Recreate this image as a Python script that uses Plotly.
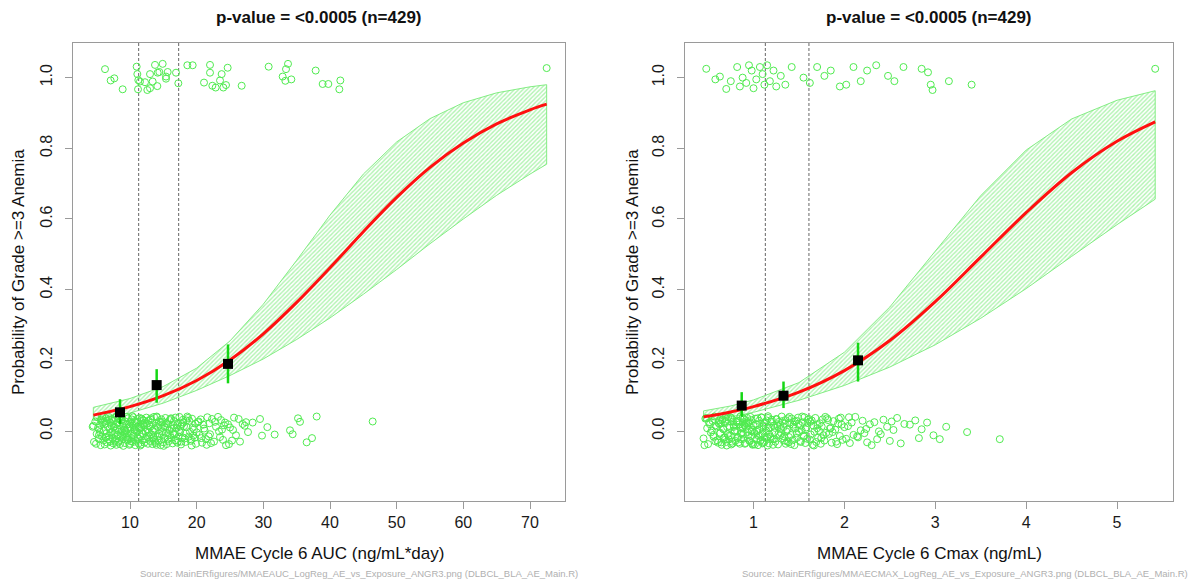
import plotly.graph_objects as go

W, H = 1191, 580

# ---------------- MMAE Cycle 6 AUC panel ----------------
auc_fit_x = [4.5, 10, 15, 20, 25, 30, 35, 40, 45, 50, 55, 60, 65, 70, 72.5]
auc_fit_p = [0.045, 0.069, 0.100, 0.143, 0.201, 0.275, 0.364, 0.462, 0.564,
             0.661, 0.746, 0.815, 0.869, 0.909, 0.925]
auc_ci_lo = [0.030, 0.051, 0.079, 0.115, 0.157, 0.204, 0.259, 0.320, 0.387,
             0.457, 0.530, 0.600, 0.667, 0.727, 0.755]
auc_ci_hi = [0.067, 0.092, 0.126, 0.178, 0.255, 0.359, 0.483, 0.611, 0.727,
             0.818, 0.884, 0.929, 0.957, 0.974, 0.980]

auc_bin_x = [8.5, 14.0, 24.7]
auc_bin_p = [0.053, 0.130, 0.190]
auc_bin_hi = [0.090, 0.175, 0.245]
auc_bin_lo = [0.020, 0.080, 0.135]
auc_cuts = [11.3, 17.3]

auc_evt_x = [6.25, 7.1, 7.65, 8.9, 11.0, 11.1, 11.25, 11.2, 11.5, 12.25, 12.6, 13.0,
             13.0, 13.4, 13.75, 14.1, 14.15, 14.4, 14.9, 15.4, 15.4, 15.65, 16.9, 17.25,
             18.6, 19.4, 21.1, 22.0, 22.0, 22.35, 22.85, 23.5, 23.75, 24.0, 24.4, 24.65,
             26.75, 30.8, 32.9, 33.3, 33.4, 33.7, 34.2, 37.85, 38.9, 39.75, 41.4, 41.55,
             72.5]
auc_evt_y = [1.024, 0.992, 0.998, 0.967, 1.031, 1.010, 0.993, 0.967, 0.989, 0.987, 0.965, 0.970,
             1.010, 0.989, 1.036, 0.976, 1.014, 1.016, 1.039, 1.003, 0.997, 1.016, 1.014, 0.984,
             1.035, 1.035, 0.986, 1.036, 1.014, 0.977, 0.972, 0.992, 1.010, 0.972, 0.979, 1.028,
             0.977, 1.031, 1.003, 0.991, 1.024, 1.039, 0.995, 1.020, 0.982, 0.982, 0.967, 0.992,
             1.027]

auc_non_x = [
    4.4, 4.6, 4.8, 5.0, 5.1, 5.3, 5.4, 5.5, 5.6, 5.7, 5.8, 5.9, 4.9, 5.2, 5.5, 5.8, 6.0, 4.5, 5.35, 5.65,
    6.1, 6.2, 6.3, 6.35, 6.4, 6.5, 6.55, 6.6, 6.7, 6.75, 6.8, 6.9, 6.95, 7.0, 7.05, 7.1, 7.2, 7.25,
    7.3, 7.4, 7.45, 7.5, 7.6, 7.65, 7.7, 7.8, 7.85, 7.9, 7.95, 6.15, 6.45, 6.85, 7.15, 7.55, 7.75,
    8.0, 8.05, 8.1, 8.15, 8.2, 8.3, 8.35, 8.4, 8.5, 8.55, 8.6, 8.7, 8.75, 8.8, 8.9, 8.95, 9.0, 9.05,
    9.1, 9.2, 9.25, 9.3, 9.4, 9.45, 9.5, 9.6, 9.65, 9.7, 9.8, 9.85, 9.9, 9.95, 8.25, 8.65, 9.15,
    9.55, 9.75, 8.45, 8.85, 9.35,
    10.0, 10.05, 10.1, 10.2, 10.25, 10.3, 10.4, 10.45, 10.5, 10.6, 10.65, 10.7, 10.8, 10.85, 10.9,
    11.0, 11.05, 11.1, 11.2, 11.25, 11.3, 11.4, 11.45, 11.5, 11.6, 11.65, 11.7, 11.8, 11.85, 11.9,
    11.95, 10.15, 10.35, 10.55, 10.75, 10.95, 11.15, 11.35, 11.55, 11.75,
    12.0, 12.1, 12.15, 12.2, 12.3, 12.4, 12.45, 12.5, 12.6, 12.7, 12.75, 12.8, 12.9, 13.0, 13.05,
    13.1, 13.2, 13.3, 13.35, 13.4, 13.5, 13.6, 13.65, 13.7, 13.8, 13.9, 13.95, 12.05, 12.35, 12.55,
    12.85, 13.15, 13.45, 13.75, 13.85,
    14.0, 14.1, 14.2, 14.3, 14.35, 14.4, 14.5, 14.6, 14.7, 14.8, 14.85, 14.9, 15.0, 15.1, 15.2,
    15.3, 15.4, 15.45, 15.5, 15.6, 15.7, 15.8, 15.9, 14.05, 14.45, 14.65, 15.05, 15.25, 15.65, 15.95,
    16.0, 16.1, 16.2, 16.3, 16.4, 16.5, 16.6, 16.7, 16.8, 16.9, 17.0, 17.1, 17.2, 17.3, 17.4,
    17.5, 17.6, 17.7, 17.8, 17.9, 16.15, 16.45, 16.75, 17.05, 17.35, 17.65, 17.95, 16.55,
    18.0, 18.2, 18.3, 18.5, 18.6, 18.8, 18.9, 19.0, 19.2, 19.3, 19.5, 19.6, 19.8, 19.9, 18.1,
    18.4, 18.7, 19.1, 19.4, 19.7, 18.45, 19.25,
    20.0, 20.2, 20.4, 20.6, 20.8, 21.0, 21.2, 21.4, 21.6, 21.8, 20.3, 20.7, 21.1, 21.5, 21.9,
    22.0, 22.3, 22.6, 22.9, 23.2, 23.5, 23.8, 22.15, 22.75, 23.35, 23.65, 23.95,
    24.1, 24.4, 24.7, 25.0, 25.3, 25.6, 25.9, 24.25, 24.85, 25.45,
    26.3, 26.5, 26.9, 27.2, 27.7, 27.4,
    28.4, 29.5, 29.8, 31.7, 34.0, 34.4, 35.2, 35.5, 36.5, 37.3, 38.0, 46.4, 30.6]
auc_non_y = [
    0.012, -0.031, 0.027, -0.008, 0.039, -0.022, 0.004, 0.018, -0.040, 0.033,
    -0.015, 0.025, -0.036, 0.009, -0.003, 0.041, -0.027, 0.015, -0.011, 0.030,
    0.001, -0.038, 0.021, -0.019, 0.036, -0.006, 0.028, -0.033, 0.011, -0.024,
    0.040, -0.013, 0.006, -0.029, 0.023, -0.041, 0.016, 0.034, -0.002, -0.020,
    0.029, -0.035, 0.013, -0.009, 0.037, -0.025, 0.002, 0.019, -0.039, 0.026,
    -0.017, 0.032, -0.004, 0.010, -0.030, 0.042, -0.021, 0.007, -0.012, 0.024,
    0.035, -0.028, 0.017, -0.037, 0.005, -0.016, 0.031, -0.001, 0.038, -0.023,
    0.014, -0.042, 0.022, -0.010, 0.003, -0.034, 0.027, -0.018, 0.040, -0.007,
    -0.026, 0.008, 0.036, -0.014, 0.020, -0.039, 0.012, -0.032, 0.030, -0.005,
    0.018, -0.024, 0.041, -0.011, 0.000, -0.036, 0.025, 0.009, -0.020, 0.033,
    -0.008, 0.016, -0.031, 0.039, -0.017, 0.004, 0.028, -0.040, 0.011, -0.027,
    0.023, -0.003, 0.034, -0.022, 0.013, -0.035, 0.006, 0.037, -0.015, 0.020,
    -0.038, 0.010, -0.026, 0.031, -0.006, 0.019, -0.029, 0.042, -0.012, 0.002,
    0.026, -0.019, 0.008, -0.041, 0.035, -0.009, 0.015, -0.033, 0.022, -0.001,
    -0.023, 0.038, -0.014, 0.005, -0.036, 0.029, -0.004, 0.017, -0.028, 0.012,
    0.032, -0.010, 0.024, -0.037, 0.001, -0.018, 0.040, -0.025, 0.007, -0.030,
    0.015, -0.039, 0.030, -0.002, 0.021, -0.013, 0.036, -0.021, 0.003, -0.034,
    0.041, -0.016, 0.011, -0.027, 0.026, -0.007, 0.018, -0.040, 0.033, -0.011,
    -0.001, 0.027, -0.032, 0.014, -0.020, 0.037, -0.005, 0.022, -0.037, 0.009,
    0.019, -0.029, 0.003, 0.039, -0.014, 0.025, -0.042, 0.010, -0.024, 0.031,
    -0.012, 0.034, -0.019, 0.006, -0.035, 0.016, 0.028, -0.008, 0.038, -0.026,
    0.008, -0.033, 0.023, -0.015, 0.040, -0.003, 0.013, -0.030, 0.020, -0.018,
    0.036, -0.006, -0.027, 0.017, 0.002, -0.038, 0.032, -0.010, 0.024, -0.021,
    -0.031, 0.011, 0.041, -0.016, 0.029, -0.002, -0.024, 0.035, -0.013, 0.005,
    0.021, -0.036, 0.014, -0.007, 0.037, -0.028, 0.009, -0.019, 0.030, -0.041,
    -0.004, 0.025, -0.011, 0.033, -0.033, 0.018, 0.001, -0.023, 0.039, -0.015,
    0.027, -0.020, 0.007, -0.039, 0.022, -0.009, 0.034, -0.030, 0.012, 0.040,
    -0.017, 0.004, -0.034, 0.026, -0.001, 0.031, -0.025, 0.016, -0.040, 0.019,
    0.010, -0.027, 0.038, -0.012, 0.024, -0.037, 0.003,
    0.034, -0.030, 0.020, 0.015, -0.003, 0.025,
    0.024, 0.034, -0.013, -0.010, 0.002, -0.009, 0.036, 0.026, -0.032, -0.020, 0.041, 0.027, 0.011]

# ---------------- MMAE Cycle 6 Cmax panel ----------------
cmax_fit_x = [0.45, 0.75, 1.0, 1.5, 2.0, 2.5, 3.0, 3.5, 4.0, 4.5, 5.0, 5.42]
cmax_fit_p = [0.040, 0.054, 0.069, 0.110, 0.171, 0.256, 0.366, 0.492, 0.618, 0.731, 0.820, 0.875]
cmax_ci_lo = [0.028, 0.040, 0.053, 0.087, 0.129, 0.181, 0.244, 0.319, 0.403, 0.494, 0.584, 0.656]
cmax_ci_hi = [0.057, 0.071, 0.088, 0.137, 0.223, 0.351, 0.509, 0.666, 0.795, 0.883, 0.936, 0.963]

cmax_bin_x = [0.87, 1.33, 2.15]
cmax_bin_p = [0.072, 0.100, 0.200]
cmax_bin_hi = [0.110, 0.140, 0.250]
cmax_bin_lo = [0.040, 0.065, 0.140]
cmax_cuts = [1.13, 1.61]

cmax_evt_x = [0.48, 0.58, 0.63, 0.70, 0.75, 0.82, 0.85, 0.88, 0.92, 0.95, 0.98, 1.00, 1.03,
              1.07, 1.10, 1.12, 1.15, 1.18, 1.22, 1.25, 1.30, 1.35, 1.42, 1.55, 1.62, 1.70,
              1.78, 1.85, 1.95, 2.02, 2.10, 2.18, 2.25, 2.35, 2.48, 2.55, 2.65, 2.85, 2.92,
              2.95, 2.97, 3.15, 3.40, 5.42]
cmax_evt_y = [1.025, 0.995, 1.003, 0.968, 0.990, 1.030, 0.975, 1.000, 0.985, 1.035, 1.020, 0.970, 0.995,
              1.030, 1.010, 0.980, 1.035, 0.990, 1.020, 0.975, 1.005, 0.980, 1.030, 1.000, 0.985, 1.030,
              1.005, 1.020, 0.975, 0.980, 1.030, 0.990, 1.020, 1.035, 1.005, 0.990, 1.030, 1.025, 1.015,
              0.980, 0.965, 0.990, 0.980, 1.025]

cmax_non_x = [
    0.45, 0.47, 0.49, 0.50, 0.52, 0.53, 0.55, 0.56, 0.57, 0.58, 0.59, 0.46, 0.51, 0.54, 0.60, 0.48, 0.56, 0.58,
    0.61, 0.62, 0.63, 0.64, 0.65, 0.66, 0.67, 0.68, 0.69, 0.70, 0.71, 0.72, 0.73, 0.74, 0.75, 0.76,
    0.77, 0.78, 0.79, 0.80, 0.615, 0.635, 0.655, 0.675, 0.695, 0.715, 0.735, 0.755, 0.775, 0.795,
    0.625, 0.645, 0.665, 0.685, 0.705, 0.725, 0.745, 0.765, 0.785, 0.705,
    0.81, 0.82, 0.83, 0.84, 0.85, 0.86, 0.87, 0.88, 0.89, 0.90, 0.91, 0.92, 0.93, 0.94, 0.95,
    0.96, 0.97, 0.98, 0.99, 1.00, 0.815, 0.825, 0.835, 0.845, 0.855, 0.865, 0.875, 0.885, 0.895,
    0.905, 0.915, 0.925, 0.935, 0.945, 0.955, 0.965, 0.975, 0.985, 0.995, 0.82, 0.86, 0.90, 0.94,
    0.98, 0.88,
    1.01, 1.02, 1.03, 1.04, 1.05, 1.06, 1.07, 1.08, 1.09, 1.10, 1.11, 1.12, 1.13, 1.14, 1.15,
    1.16, 1.17, 1.18, 1.19, 1.20, 1.015, 1.025, 1.035, 1.045, 1.055, 1.065, 1.075, 1.085, 1.095,
    1.105, 1.115, 1.125, 1.135, 1.145, 1.155, 1.165, 1.175, 1.185, 1.195, 1.04, 1.10, 1.16,
    1.21, 1.22, 1.23, 1.24, 1.25, 1.26, 1.27, 1.28, 1.29, 1.30, 1.31, 1.32, 1.33, 1.34, 1.35,
    1.36, 1.37, 1.38, 1.39, 1.40, 1.215, 1.235, 1.255, 1.275, 1.295, 1.315, 1.335, 1.355, 1.375,
    1.395, 1.225, 1.265, 1.305, 1.345, 1.385,
    1.41, 1.42, 1.43, 1.44, 1.45, 1.46, 1.47, 1.48, 1.49, 1.50, 1.51, 1.52, 1.53, 1.54, 1.55,
    1.56, 1.57, 1.58, 1.59, 1.60, 1.415, 1.435, 1.455, 1.475, 1.495, 1.515, 1.535, 1.555, 1.575, 1.595,
    1.61, 1.62, 1.63, 1.64, 1.65, 1.66, 1.67, 1.68, 1.69, 1.70, 1.71, 1.72, 1.73, 1.74, 1.75,
    1.76, 1.77, 1.78, 1.79, 1.80, 1.625, 1.665, 1.705, 1.745,
    1.81, 1.83, 1.85, 1.86, 1.88, 1.90, 1.91, 1.93, 1.95, 1.96, 1.98, 2.00, 1.82, 1.87, 1.92, 1.97, 1.84, 1.94,
    2.02, 2.04, 2.06, 2.08, 2.10, 2.12, 2.15, 2.18, 2.20, 2.22, 2.25, 2.28, 2.05, 2.14, 2.24, 2.30,
    2.33, 2.36, 2.40, 2.43, 2.47, 2.50, 2.54, 2.58, 2.62, 2.66, 2.38, 2.52,
    2.72, 2.78, 2.85, 2.91, 2.98, 3.05, 3.12, 3.35, 3.71, 2.82]
cmax_non_y = [
    -0.021, 0.035, 0.008, -0.037, 0.019, -0.004, 0.028, -0.016, 0.041, -0.029,
    0.013, -0.040, 0.024, 0.002, -0.026, 0.037, -0.011, 0.016, -0.033, 0.030,
    -0.007, 0.021, -0.039, 0.033, 0.005, -0.018, 0.026, -0.031, 0.011, 0.039,
    -0.024, 0.009, -0.013, 0.036, -0.035, 0.018, 0.001, -0.028, 0.023, -0.005,
    0.031, -0.019, 0.040, -0.009, 0.014, -0.038, 0.027, -0.002, 0.020, -0.032,
    0.006, -0.025, 0.034, -0.014, 0.039, -0.030, 0.012, -0.041, 0.025, 0.000,
    -0.017, 0.029, -0.036, 0.010, -0.006, 0.038, -0.022, 0.017, -0.034, 0.022,
    0.037, -0.012, 0.004, -0.029, 0.031, -0.001, -0.039, 0.015, 0.026, -0.020,
    -0.032, 0.019, 0.041, -0.023, 0.007, -0.010, 0.033, -0.036, 0.012, 0.028,
    -0.003, 0.024, -0.027, 0.040, -0.015, 0.003, -0.037, 0.030, -0.008, 0.016,
    0.022, -0.034, 0.011, -0.005, 0.035, -0.024, 0.018, -0.040, 0.029, -0.013,
    -0.026, 0.038, -0.009, 0.014, -0.031, 0.025, 0.001, -0.018, 0.042, -0.035,
    0.010, -0.021, 0.032, -0.038, 0.020, -0.002, 0.036, -0.014, 0.005, -0.028,
    0.039, -0.007, -0.033, 0.023, -0.019, 0.013, 0.030, -0.041, 0.008, -0.010,
    -0.016, 0.027, 0.003, -0.035, 0.037, -0.024, 0.015, -0.004, -0.030, 0.034,
    0.019, -0.038, 0.026, -0.012, 0.006, 0.041, -0.020, 0.011, -0.027, 0.031,
    -0.001, -0.029, 0.036, -0.017, 0.024, -0.039, 0.009, 0.033, -0.008, 0.017,
    0.028, -0.015, -0.036, 0.004, 0.040, -0.023, 0.014, -0.006, 0.021, -0.032,
    -0.011, 0.035, -0.026, 0.018, -0.040, 0.007, 0.029, -0.019, 0.038, -0.003,
    0.016, -0.031, 0.002, 0.025, -0.013, 0.039, -0.034, 0.010, -0.022, 0.032,
    -0.037, 0.012, 0.027, -0.007, 0.020, -0.028, 0.041, -0.016, 0.005, 0.023,
    0.034, -0.024, -0.010, 0.030, -0.039, 0.015, -0.002, 0.037, -0.031, 0.008,
    -0.019, 0.001, 0.022, -0.036, 0.013, 0.033, -0.012, -0.027, 0.040, -0.005,
    0.026, -0.041, 0.017, -0.020, 0.036, -0.008, 0.009, -0.033, 0.028, 0.004,
    -0.030, 0.021, -0.014, 0.038, -0.025, 0.011, 0.031, -0.003, -0.037, 0.018,
    0.007, 0.035, -0.022, 0.014, -0.034, 0.024, -0.011, 0.040, -0.018, 0.002,
    0.029, -0.006, -0.032, 0.019, 0.039, -0.015, 0.006, -0.040, 0.025, -0.023,
    -0.009, 0.032, 0.012, -0.028, 0.003, 0.037, -0.035, 0.020, -0.001, 0.027,
    0.018, 0.030, 0.005, 0.024, -0.012, -0.023, 0.012, -0.003, -0.023, -0.020]

y_ticks = [0.0, 0.2, 0.4, 0.6, 0.8, 1.0]
y_ticktext = ["0.0", "0.2", "0.4", "0.6", "0.8", "1.0"]
auc_ticks = [10, 20, 30, 40, 50, 60, 70]
cmax_ticks = [1, 2, 3, 4, 5]

title_text = "<b>p-value = <0.0005 (n=429)</b>"
y_title = "Probability of Grade >=3 Anemia"
auc_xtitle = "MMAE Cycle 6 AUC (ng/mL*day)"
cmax_xtitle = "MMAE Cycle 6 Cmax (ng/mL)"
auc_source = "Source: MainERfigures/MMAEAUC_LogReg_AE_vs_Exposure_ANGR3.png (DLBCL_BLA_AE_Main.R)"
cmax_source = "Source: MainERfigures/MMAECMAX_LogReg_AE_vs_Exposure_ANGR3.png (DLBCL_BLA_AE_Main.R)"

FONT = "Liberation Sans, Arial, sans-serif"
PT_GREEN = "rgb(80,235,80)"
BAND_GREEN = "rgba(80,228,80,0.9)"
BAR_GREEN = "rgb(20,215,20)"

fig = go.Figure()


def add_panel(xa, ya, fx, fp, lo, hi, bx, bp, bhi, blo, ex, ey, nx, ny):
    # confidence band, outlined and hatched
    fig.add_trace(go.Scatter(
        x=list(fx) + list(fx[::-1]) + [fx[0]],
        y=list(hi) + list(lo[::-1]) + [hi[0]],
        mode="lines", fill="toself",
        line=dict(color="rgba(120,235,120,0.9)", width=1),
        fillcolor="rgba(255,255,255,0)",
        fillpattern=dict(shape="/", fgcolor=BAND_GREEN, bgcolor="rgba(255,255,255,0)",
                         size=3, solidity=0.45),
        xaxis=xa, yaxis=ya, hoverinfo="skip", showlegend=False))
    # observed outcomes (jittered)
    for xs, ys in ((nx, ny), (ex, ey)):
        fig.add_trace(go.Scatter(
            x=xs, y=ys, mode="markers",
            marker=dict(symbol="circle-open", size=7, color=PT_GREEN, line=dict(width=1)),
            xaxis=xa, yaxis=ya, showlegend=False))
    # fitted logistic curve
    fig.add_trace(go.Scatter(
        x=fx, y=fp, mode="lines", line=dict(color="#FF1010", width=3, shape="spline"),
        xaxis=xa, yaxis=ya, showlegend=False))
    # observed proportion per exposure bin with 95% CI
    fig.add_trace(go.Scatter(
        x=bx, y=bp, mode="markers",
        marker=dict(symbol="square", size=10, color="black"),
        error_y=dict(type="data", symmetric=False,
                     array=[h - p for h, p in zip(bhi, bp)],
                     arrayminus=[p - l for p, l in zip(bp, blo)],
                     color=BAR_GREEN, thickness=2.5, width=0),
        xaxis=xa, yaxis=ya, showlegend=False))


add_panel("x", "y", auc_fit_x, auc_fit_p, auc_ci_lo, auc_ci_hi,
          auc_bin_x, auc_bin_p, auc_bin_hi, auc_bin_lo,
          auc_evt_x, auc_evt_y, auc_non_x, auc_non_y)
add_panel("x2", "y2", cmax_fit_x, cmax_fit_p, cmax_ci_lo, cmax_ci_hi,
          cmax_bin_x, cmax_bin_p, cmax_bin_hi, cmax_bin_lo,
          cmax_evt_x, cmax_evt_y, cmax_non_x, cmax_non_y)

shapes = []
for xref, yref, cuts in (("x", "y domain", auc_cuts), ("x2", "y2 domain", cmax_cuts)):
    for c in cuts:
        shapes.append(dict(type="line", xref=xref, yref=yref, x0=c, x1=c, y0=0, y1=1,
                           line=dict(color="#666666", width=1, dash="3px,2px"), layer="below"))

axis_common = dict(showgrid=False, zeroline=False, showline=True, mirror=True,
                   linecolor="#9a9a9a", linewidth=1, ticks="outside", ticklen=7,
                   tickcolor="#9a9a9a", tickwidth=1,
                   tickfont=dict(family=FONT, size=16, color="#1a1a1a"))

left_dom = [73 / W, 565 / W]
right_dom = [685 / W, 1173 / W]
y_dom = [79 / H, 537 / H]

fig.update_layout(
    width=W, height=H, autosize=False,
    margin=dict(l=0, r=0, t=0, b=0),
    paper_bgcolor="white", plot_bgcolor="white",
    font=dict(family=FONT),
    shapes=shapes,
    xaxis=dict(domain=left_dom, range=[1.45, 75.25], tickvals=auc_ticks, anchor="y", **axis_common),
    yaxis=dict(domain=y_dom, range=[-0.198, 1.098], tickvals=y_ticks, ticktext=y_ticktext,
               tickangle=-90, ticklabelstandoff=7, anchor="x", **axis_common),
    xaxis2=dict(domain=right_dom, range=[0.246, 5.616], tickvals=cmax_ticks, anchor="y2", **axis_common),
    yaxis2=dict(domain=y_dom, range=[-0.198, 1.098], tickvals=y_ticks, ticktext=y_ticktext,
                tickangle=-90, ticklabelstandoff=7, anchor="x2", **axis_common),
)

ann = []
for cx, xt, src, src_end, ytx in (
        (319, auc_xtitle, auc_source, 580, 18),
        (929, cmax_xtitle, cmax_source, 1190, 632)):
    ann.append(dict(text=title_text, x=cx / W, y=1 - 18 / H, xref="paper", yref="paper",
                    showarrow=False, xanchor="center", yanchor="middle",
                    font=dict(family=FONT, size=17, color="#111111")))
    ann.append(dict(text=xt, x=cx / W, y=1 - 553 / H, xref="paper", yref="paper",
                    showarrow=False, xanchor="center", yanchor="middle",
                    font=dict(family=FONT, size=17, color="#111111")))
    ann.append(dict(text=y_title, x=ytx / W, y=1 - 272 / H, xref="paper", yref="paper",
                    showarrow=False, xanchor="center", yanchor="middle", textangle=-90,
                    font=dict(family=FONT, size=17, color="#111111")))
    ann.append(dict(text=src, x=src_end / W, y=1 - 573 / H, xref="paper", yref="paper",
                    showarrow=False, xanchor="right", yanchor="middle",
                    font=dict(family=FONT, size=9.5, color="#b0b0b0")))
fig.update_layout(annotations=ann)

fig.write_html("out.html")
